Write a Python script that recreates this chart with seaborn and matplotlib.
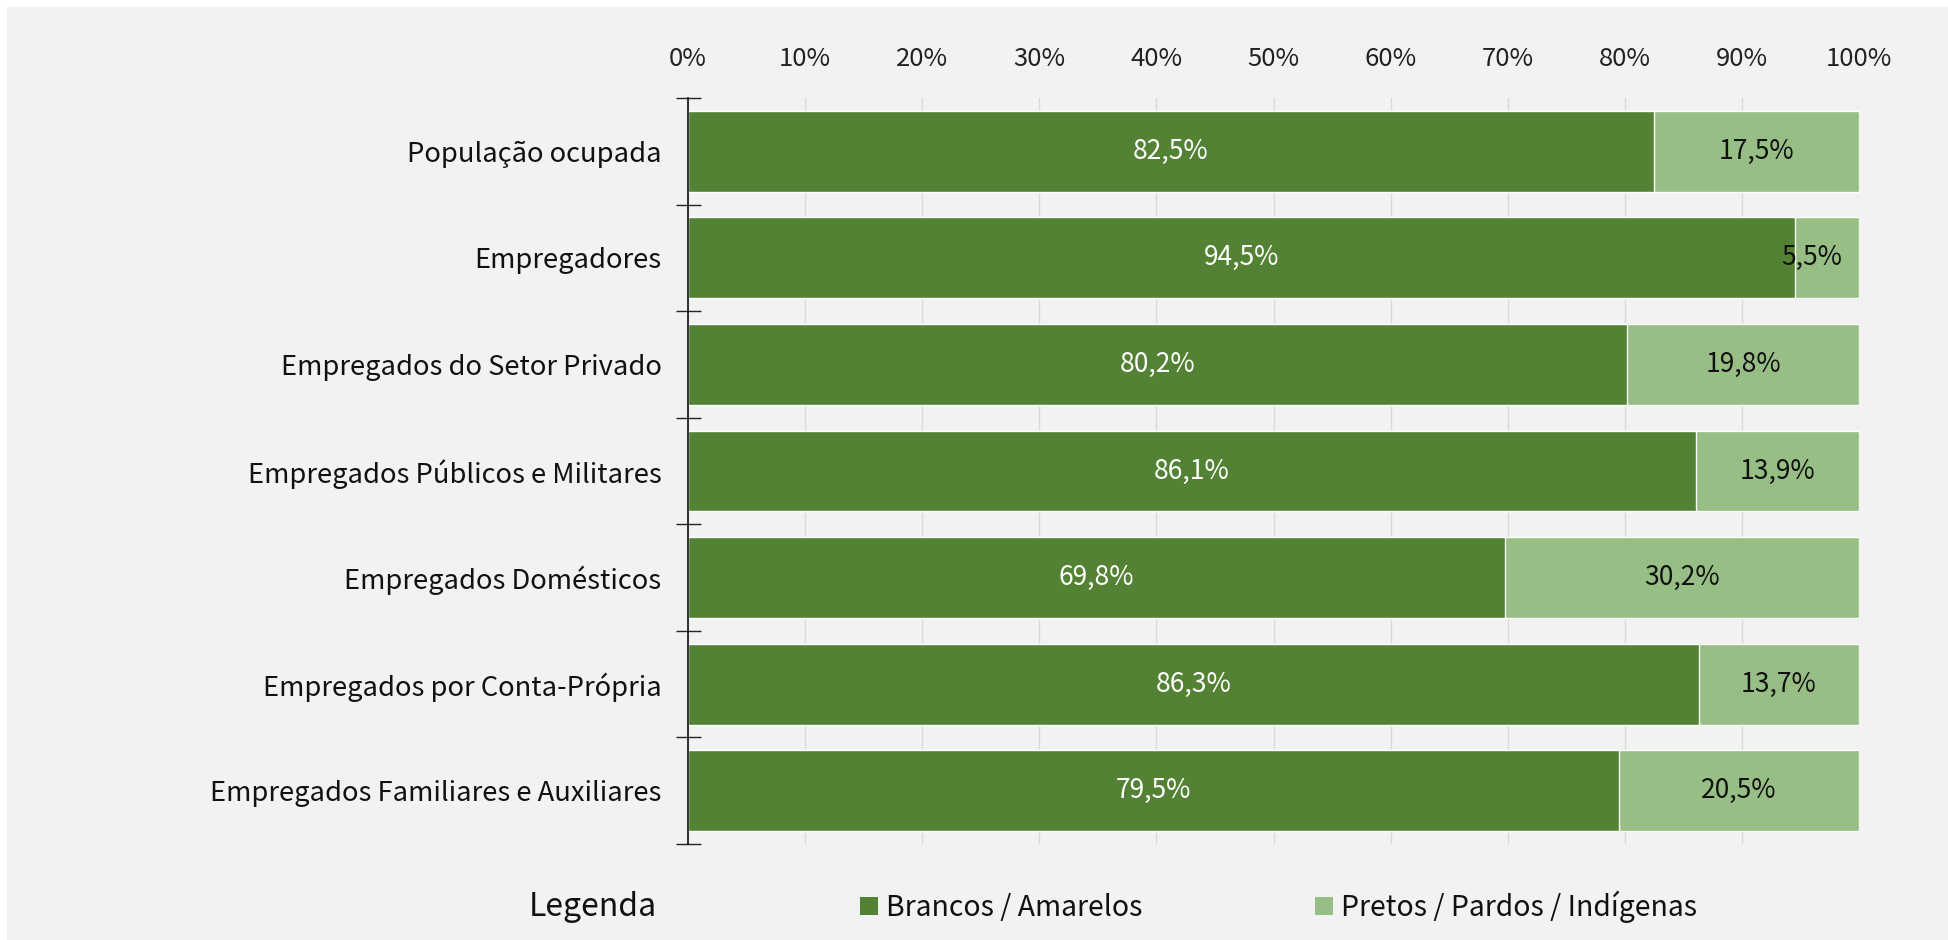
import matplotlib
matplotlib.use("Agg")
import matplotlib.pyplot as plt
import seaborn as sns
import pandas as pd
from matplotlib.patches import Patch

categories = [
    "População ocupada",
    "Empregadores",
    "Empregados do Setor Privado",
    "Empregados Públicos e Militares",
    "Empregados Domésticos",
    "Empregados por Conta-Própria",
    "Empregados Familiares e Auxiliares",
]
brancos = [82.5, 94.5, 80.2, 86.1, 69.8, 86.3, 79.5]
pretos = [17.5, 5.5, 19.8, 13.9, 30.2, 13.7, 20.5]
series_names = ["Brancos / Amarelos", "Pretos / Pardos / Indígenas"]
xticks = [0, 10, 20, 30, 40, 50, 60, 70, 80, 90, 100]

DARK = "#548235"
LIGHT = "#97BE84"
BG = "#F2F2F2"

sns.set_theme(style="white")
plt.rcParams["font.family"] = ["Noto Sans CJK JP", "DejaVu Sans"]

df = pd.DataFrame({"cat": categories, "b": brancos, "p": pretos})
df["total"] = df["b"] + df["p"]

fig = plt.figure(figsize=(19.49, 9.40), dpi=100, facecolor="white")
# gray panel with thin white margin top/left
fig.patches.append(plt.Rectangle((7 / 1949, -0.01), 1.1, 1.01 - 7 / 940, transform=fig.transFigure,
                                 facecolor=BG, edgecolor="none", zorder=-10))
ax = fig.add_axes([688 / 1949, 1 - 844 / 940, (1859 - 688) / 1949, (844 - 98) / 940])
ax.set_facecolor(BG)

sns.barplot(data=df, y="cat", x="total", color=LIGHT, orient="h", width=0.76,
            saturation=1, ax=ax, zorder=2)
sns.barplot(data=df, y="cat", x="b", color=DARK, orient="h", width=0.76,
            saturation=1, ax=ax, zorder=3)

ax.set_xlim(0, 100)
ax.set_ylim(6.5, -0.5)
ax.set_xticks(xticks)
ax.set_xticklabels([f"{v}%" for v in xticks], fontsize=18.5, color="#222222")
ax.xaxis.tick_top()
ax.tick_params(axis="x", length=0, pad=19)
ax.grid(axis="x", color="#D9D9D9", linewidth=1, zorder=0)
ax.set_axisbelow(True)
ax.set_xlabel("")
ax.set_ylabel("")

ax.set_yticks(range(len(categories)), minor=False)
ax.set_yticks([i - 0.5 for i in range(len(categories) + 1)], minor=True)
ax.tick_params(axis="y", which="major", length=0, pad=19, labelsize=19.7, labelcolor="#111111")
ax.tick_params(axis="y", which="minor", left=True, direction="inout", length=18, width=1,
               color="#222222")

for s in ["top", "right", "bottom"]:
    ax.spines[s].set_visible(False)
ax.spines["left"].set_color("#111111")
ax.spines["left"].set_linewidth(1.2)
ax.spines["left"].set_zorder(5)

for i, (b, p) in enumerate(zip(brancos, pretos)):
    ax.text(b / 2, i, f"{b:.1f}%".replace(".", ","), ha="center", va="center",
            color="white", fontsize=19, zorder=6)
    lbl = f"{p:.1f}%".replace(".", ",")
    if p < 8:
        # label too wide for the segment: keep it inside the plot's right edge
        ax.annotate(lbl, xy=(b + p, i), xytext=(-12, 0), textcoords="offset points",
                    ha="right", va="center", color="#111111", fontsize=19, zorder=6)
    else:
        ax.text(b + p / 2, i, lbl, ha="center", va="center",
                color="#111111", fontsize=19, zorder=6)

fig.text(593 / 1949, 1 - 907 / 940, "Legenda", ha="center", va="center",
         fontsize=23, color="#111111")
handles = [Patch(facecolor=DARK, edgecolor="none", label=series_names[0]),
           Patch(facecolor=LIGHT, edgecolor="none", label=series_names[1])]
fig.legend(handles=handles, loc="center left", bbox_to_anchor=(860 / 1949, 1 - 907 / 940),
           ncol=2, frameon=False, fontsize=20.4, handlelength=0.62, handleheight=0.62,
           handletextpad=0.3, columnspacing=6.1, borderpad=0, borderaxespad=0,
           labelcolor="#111111")

fig.savefig("out.png", dpi=100, facecolor=fig.get_facecolor())
